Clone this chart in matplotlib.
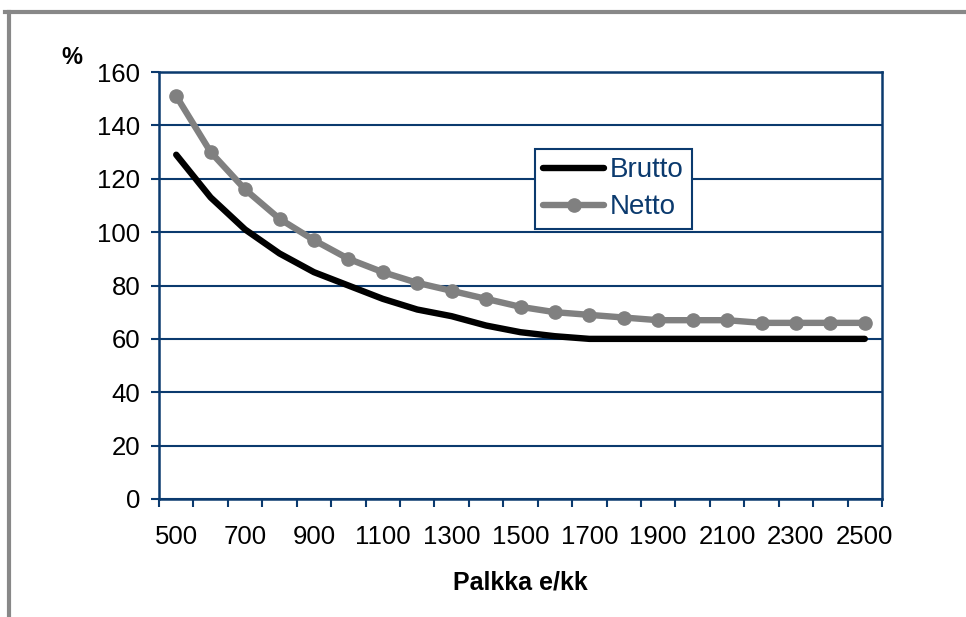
import matplotlib
matplotlib.use("Agg")
import matplotlib.pyplot as plt
from matplotlib.lines import Line2D
from matplotlib.ticker import FixedLocator

plt.rcParams['font.family'] = ['Liberation Sans', 'DejaVu Sans']

# data
palkka = [500, 600, 700, 800, 900, 1000, 1100, 1200, 1300, 1400, 1500,
          1600, 1700, 1800, 1900, 2000, 2100, 2200, 2300, 2400, 2500]
brutto = [129, 113, 101, 92, 85, 80, 75, 71, 68.5, 65, 62.5,
          61, 60, 60, 60, 60, 60, 60, 60, 60, 60]
netto = [151, 130, 116, 105, 97, 90, 85, 81, 78, 75, 72,
         70, 69, 68, 67, 67, 67, 66, 66, 66, 66]
y_ticks = [0, 20, 40, 60, 80, 100, 120, 140, 160]

navy = '#0b3a6e'
W, H = 966, 617

fig = plt.figure(figsize=(W / 100, H / 100), dpi=100)
ax = fig.add_axes([159 / W, 1 - 499 / H, (882 - 159) / W, (499 - 72) / H])

x = list(range(len(palkka)))
ax.plot(x, brutto, color='black', lw=4.6, solid_capstyle='round',
        solid_joinstyle='round', label='Brutto', zorder=3)
ax.plot(x, netto, color='#808080', lw=4.6, marker='o', ms=9.5,
        solid_capstyle='round', solid_joinstyle='round', label='Netto', zorder=4)

ax.set_xlim(-0.5, len(palkka) - 0.5)
ax.set_ylim(0, 160)
ax.set_yticks(y_ticks)
ax.yaxis.grid(True, color=navy, lw=1.5)
ax.set_axisbelow(True)

# tick marks between categories, labels on every other category
ax.xaxis.set_major_locator(FixedLocator([i - 0.5 for i in range(len(palkka) + 1)]))
ax.set_xticklabels([])
ax.xaxis.set_minor_locator(FixedLocator(x[::2]))
ax.set_xticklabels([str(p) for p in palkka[::2]], minor=True)
ax.tick_params(axis='x', which='major', length=6, width=1.5, color=navy, direction='out')
ax.tick_params(axis='x', which='minor', length=0, pad=19, labelsize=18.5)
ax.tick_params(axis='y', length=5.5, width=1.5, color=navy, pad=8, labelsize=18.5)

for s in ax.spines.values():
    s.set_color(navy)
    s.set_linewidth(1.8)

ax.set_xlabel('Palkka e/kk', fontsize=18, fontweight='bold', labelpad=15)
fig.text(72 / W, 1 - 58 / H, '%', fontsize=17, fontweight='bold',
         ha='center', va='center')

leg = ax.legend(loc='upper left', bbox_to_anchor=(535 / W, 1 - 149 / H),
                bbox_transform=fig.transFigure, fontsize=20, frameon=True,
                fancybox=False, framealpha=1, edgecolor=navy,
                handlelength=2.2, handletextpad=0.2, borderpad=0.3,
                labelspacing=0.4, borderaxespad=0)
leg.get_frame().set_linewidth(1.5)
for t in leg.get_texts():
    t.set_color(navy)

# grey frame around the chart
fig.add_artist(Line2D([5 / W, 1], [1 - 12 / H, 1 - 12 / H], color='#888888', lw=3))
fig.add_artist(Line2D([9 / W, 9 / W], [0, 1 - 12 / H], color='#888888', lw=3))

fig.savefig('out.png', dpi=100)
